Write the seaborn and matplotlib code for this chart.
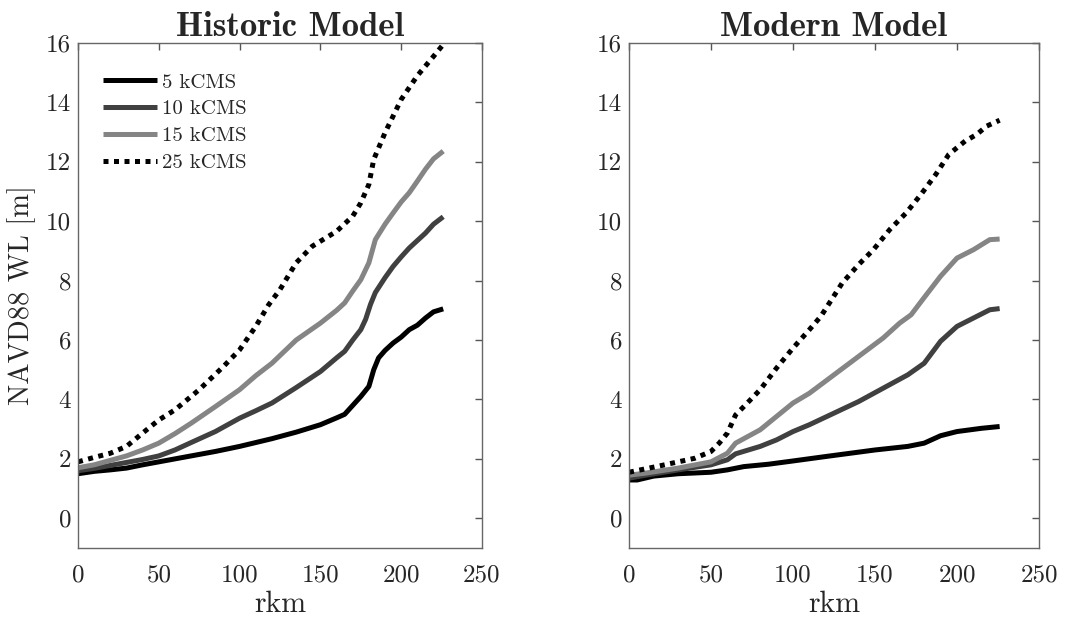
import matplotlib
matplotlib.use("Agg")
import matplotlib.pyplot as plt
import seaborn as sns
import pandas as pd

# ---- data ----
series_labels = ["5 kCMS", "10 kCMS", "15 kCMS", "25 kCMS"]

hist_x_5 = [0,10,20,30,40,50,60,70,85,100,110,120,135,150,160,165,170,175,180,183,186,190,195,200,205,210,215,220,226]
hist_y_5 = [1.5,1.58,1.63,1.69,1.8,1.9,2.0,2.1,2.25,2.42,2.55,2.68,2.9,3.15,3.38,3.5,3.8,4.1,4.44,5.0,5.4,5.65,5.9,6.1,6.35,6.5,6.74,6.95,7.05]
hist_x_10 = [0,10,20,30,40,50,60,70,85,100,110,120,135,150,160,165,170,175,178,181,184,190,195,200,205,210,215,220,226]
hist_y_10 = [1.6,1.68,1.78,1.88,1.98,2.1,2.3,2.55,2.92,3.37,3.62,3.88,4.4,4.94,5.4,5.62,6.0,6.35,6.7,7.2,7.6,8.1,8.48,8.8,9.1,9.35,9.6,9.9,10.15]
hist_x_15 = [0,10,20,30,40,50,60,70,85,100,110,120,135,150,160,165,170,175,180,184,190,195,200,205,210,215,220,226]
hist_y_15 = [1.7,1.8,1.95,2.1,2.3,2.53,2.85,3.2,3.76,4.33,4.8,5.22,6.0,6.57,7.0,7.25,7.65,8.03,8.6,9.38,9.9,10.28,10.65,10.96,11.35,11.75,12.1,12.36]
hist_x_25 = [0,10,20,30,40,50,60,75,90,100,110,118,125,135,145,160,170,175,180,183,190,200,210,220,226]
hist_y_25 = [1.9,2.05,2.19,2.42,2.87,3.31,3.65,4.33,5.11,5.67,6.46,7.19,7.7,8.6,9.16,9.66,10.17,10.62,11.24,12.08,12.98,14.1,14.9,15.55,15.95]

mod_x_5 = [0,5,15,30,50,60,70,85,100,120,150,170,180,190,200,215,226]
mod_y_5 = [1.29,1.29,1.42,1.5,1.55,1.63,1.74,1.82,1.93,2.08,2.3,2.42,2.53,2.78,2.92,3.03,3.09]
mod_x_10 = [0,10,30,50,60,65,80,90,100,110,125,140,155,170,180,190,200,210,220,226]
mod_y_10 = [1.35,1.45,1.63,1.8,1.97,2.17,2.42,2.64,2.92,3.15,3.54,3.93,4.38,4.83,5.22,5.96,6.46,6.74,7.02,7.06]
mod_x_15 = [0,10,30,50,60,65,80,90,100,110,125,140,155,165,172,179,190,200,210,220,226]
mod_y_15 = [1.45,1.52,1.69,1.9,2.19,2.53,2.98,3.43,3.88,4.21,4.83,5.45,6.07,6.57,6.85,7.36,8.15,8.76,9.04,9.38,9.4]
mod_x_25 = [0,20,40,50,55,60,65,70,80,90,100,110,117,130,140,149,159,169,178,187,195,205,212,218,226]
mod_y_25 = [1.55,1.78,2.02,2.25,2.53,2.87,3.48,3.76,4.33,5.06,5.73,6.35,6.8,7.92,8.54,9.04,9.72,10.28,10.9,11.57,12.25,12.7,12.92,13.2,13.4]

x_ticks = [0, 50, 100, 150, 200, 250]
y_ticks = [0, 2, 4, 6, 8, 10, 12, 14, 16]

# ---- style ----
sns.set_style("white")
plt.rcParams["font.family"] = ["cmr10", "DejaVu Serif"]
plt.rcParams["axes.unicode_minus"] = False
plt.rcParams["mathtext.fontset"] = "cm"

colors = ["#000000", "#404040", "#858585", "#000000"]
styles = ["-", "-", "-", (0, (1.0, 1.1))]
lw = 3.6

fig = plt.figure(figsize=(10.72, 6.17), dpi=100)
ax1 = fig.add_axes([78/1072, 1-548/617, 404/1072, 505/617])
ax2 = fig.add_axes([629/1072, 1-548/617, 410/1072, 505/617])

hist = [(hist_x_5, hist_y_5), (hist_x_10, hist_y_10), (hist_x_15, hist_y_15), (hist_x_25, hist_y_25)]
mod = [(mod_x_5, mod_y_5), (mod_x_10, mod_y_10), (mod_x_15, mod_y_15), (mod_x_25, mod_y_25)]

for ax, group, title in [(ax1, hist, "Historic Model"), (ax2, mod, "Modern Model")]:
    for (xs, ys), lab, c, ls in zip(group, series_labels, colors, styles):
        df = pd.DataFrame({"rkm": xs, "wl": ys})
        sns.lineplot(data=df, x="rkm", y="wl", ax=ax, color=c, linewidth=lw,
                     linestyle=ls, label=lab, dash_capstyle="butt",
                     solid_capstyle="butt")
    ax.set_xlim(0, 250)
    ax.set_ylim(-1, 16)
    ax.set_xticks(x_ticks)
    ax.set_yticks(y_ticks)
    ax.tick_params(direction="in", length=5, width=1, top=True, right=True,
                   labelsize=18, colors="#555555", labelcolor="#262626")
    ax.tick_params(axis="x", pad=12)
    ax.tick_params(axis="y", pad=5)
    for s in ax.spines.values():
        s.set_color("#666666")
        s.set_linewidth(1)
    ax.set_xlabel("rkm", fontsize=21.5, color="#262626", labelpad=3)
    if ax is ax1:
        ax.set_title(title, fontsize=25, family=["cmb10", "DejaVu Serif"], pad=5, x=0.525)
        ax.set_ylabel("NAVD88 WL [m]", fontsize=20.5, color="#262626", labelpad=7)
        ax.legend(loc="upper left", frameon=False, fontsize=15, handlelength=2.6,
                  handletextpad=0.24, labelspacing=0.39,
                  bbox_to_anchor=(0.03, 0.965), borderaxespad=0.2)
    else:
        ax.set_title(title, fontsize=25, family=["cmb10", "DejaVu Serif"], pad=5)
        ax.set_ylabel("")
        if ax.get_legend() is not None:
            ax.get_legend().remove()

fig.savefig("out.png", dpi=100)
